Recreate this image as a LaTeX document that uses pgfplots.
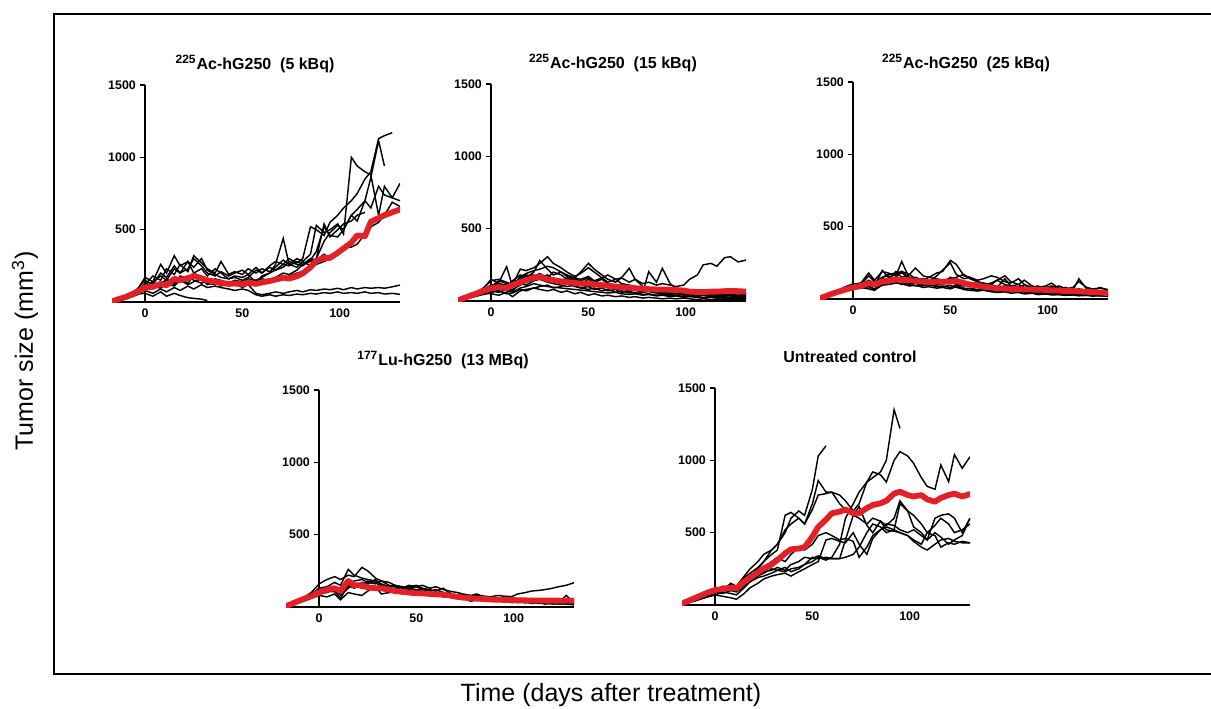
\documentclass[border=0pt]{standalone}
\usepackage{fontspec}
\setmainfont{Liberation Sans}
\usepackage{pgfplots}
\usepackage{pgfplotstable}
\pgfplotsset{compat=1.18}
\definecolor{meanred}{RGB}{228,32,38}

% one row per animal (a, b, ...), m = group mean; columns = days after treatment
\pgfplotstableread[header=has colnames]{
t -17 -10 -4 0 4 8 11 15 18 22 25 29 32 36 39 43 46 50 53 57 60 64 67 71 74 78 81 85 88 92 95 99 102 106 109 113 116 120 123 127 131
a 5 40 90 150 120 200 170 250 200 230 300 250 200 180 210 180 200 220 190 240 200 250 280 260 300 270 300 520 500 460 550 600 650 700 750 850 900 1130 1150 1170 nan
b 5 30 70 120 180 150 230 190 260 210 320 270 230 200 280 190 210 190 230 200 230 210 240 290 260 300 280 330 530 480 500 540 470 1000 940 900 880 600 800 720 700
c 0 25 60 100 130 110 160 130 180 160 200 170 140 160 150 130 150 140 160 150 170 200 220 240 280 260 250 290 350 520 460 450 500 600 640 700 860 1115 940 nan nan
d 5 45 80 110 90 140 120 160 140 180 150 130 150 130 140 120 140 130 150 140 160 150 170 200 190 220 260 280 300 420 480 530 500 600 560 700 650 800 740 720 820
e 0 35 70 90 110 95 130 110 150 120 140 160 120 140 110 130 120 140 130 150 140 160 150 160 180 200 210 230 260 280 300 330 380 380 400 470 520 550 600 690 660
f 5 30 60 100 140 260 200 320 250 280 240 300 220 190 170 160 180 170 190 130 180 200 260 440 260 240 280 250 300 540 450 500 540 560 600 620 nan nan nan nan nan
g 0 30 70 130 110 130 150 120 170 130 180 150 130 120 140 110 130 100 120 60 50 60 70 60 70 80 70 85 80 90 85 95 85 100 90 100 95 100 95 105 117
h 5 20 50 80 60 90 70 100 80 110 90 120 100 110 100 90 80 90 80 50 40 50 40 50 45 55 50 60 55 65 60 70 60 65 60 70 60 65 55 60 53
i 0 25 55 60 40 70 40 60 45 30 25 20 10 nan nan nan nan nan nan nan nan nan nan nan nan nan nan nan nan nan nan nan nan nan nan nan nan nan nan nan nan
j 5 40 85 170 140 180 150 230 200 280 200 230 180 230 200 160 170 150 170 220 200 240 220 260 250 280 260 300 290 330 300 350 nan nan nan nan nan nan nan nan nan
m 5 35 70 100 105 125 115 160 150 165 180 165 150 140 132 125 128 122 135 125 135 145 155 168 162 178 198 240 285 305 305 340 370 410 460 455 555 580 600 620 640
}\rawA

\pgfplotstableread[header=has colnames]{
t -17 -10 -4 0 4 8 11 15 18 22 25 29 32 36 39 43 46 50 53 57 60 64 67 71 74 78 81 85 88 92 95 99 102 106 109 113 116 120 123 127 131
a 5 40 90 140 150 130 110 220 210 230 260 306 260 230 200 170 190 230 200 160 180 150 160 130 150 120 130 110 120 110 100 110 150 180 250 260 240 300 306 270 283
b 5 35 70 90 130 237 100 160 180 170 190 160 200 180 150 160 200 260 220 180 150 130 160 226 150 100 80 70 60 50 55 45 40 50 45 40 35 40 35 30 30
c 5 30 60 70 60 80 70 120 110 140 150 130 120 110 100 110 90 100 80 90 70 80 60 70 50 60 203 130 226 120 90 70 60 50 55 45 40 45 40 35 40
d 5 25 50 60 80 70 60 90 100 120 110 100 95 90 85 80 75 70 65 60 55 60 50 45 50 40 45 35 40 30 35 25 30 25 20 25 20 22 18 20 15
e 5 35 80 110 120 100 140 180 160 200 280 220 180 200 170 150 140 160 130 150 120 110 100 90 80 85 70 65 60 55 60 50 55 45 50 40 45 50 45 40 45
f 5 30 50 50 40 60 30 70 80 90 100 110 90 100 120 100 90 80 90 70 80 60 70 55 60 45 50 40 45 35 40 30 35 30 25 30 25 20 25 22 20
g 5 40 85 150 120 110 130 150 170 180 160 180 150 140 160 140 120 150 130 110 120 100 110 90 100 80 90 70 75 65 60 70 60 65 55 60 55 50 55 50 50
h 5 30 60 80 100 90 80 110 130 150 170 140 130 150 130 120 110 100 110 90 100 80 85 70 75 60 65 55 50 45 50 40 45 35 40 30 35 30 25 30 25
i 5 25 45 60 70 50 55 80 70 90 80 70 80 60 70 50 60 40 50 35 40 30 35 25 30 20 25 20 15 20 15 20 15 10 15 10 12 10 8 10 8
j 5 35 75 100 140 120 100 170 190 210 220 240 230 200 180 160 150 170 140 160 130 150 120 110 100 90 85 80 75 70 75 65 60 70 60 55 60 55 65 55 50
m 5 40 70 88 95 90 110 130 145 160 168 150 145 135 130 125 120 122 115 110 105 100 95 92 88 85 82 80 80 78 76 72 65 62 62 65 65 68 70 68 65
}\rawB

\pgfplotstableread[header=has colnames]{
t -17 -10 -4 0 4 8 11 15 18 22 25 29 32 36 39 43 46 50 53 57 60 64 67 71 74 78 81 85 88 92 95 99 102 106 109 113 116 120 123 127 131
a 5 40 80 100 110 180 130 190 180 160 260 140 150 130 120 110 100 130 120 100 90 80 70 90 60 70 60 55 60 50 55 45 50 40 45 35 40 35 30 35 30
b 5 45 85 105 100 120 110 150 170 180 190 170 214 160 150 180 190 267 240 160 150 120 100 110 130 160 120 100 130 90 80 90 110 70 80 60 70 60 65 50 55
c 5 35 70 90 95 100 90 198 150 170 180 150 130 140 120 160 200 250 170 140 150 130 140 160 150 120 110 140 100 80 90 70 80 90 70 80 120 80 70 75 65
d 5 30 60 75 80 70 60 100 110 120 100 110 90 100 95 90 85 95 80 70 75 65 70 60 55 60 50 55 45 50 40 45 35 40 30 35 30 32 25 30 20
e 5 40 75 95 100 160 120 140 130 190 150 170 140 130 150 140 130 140 150 170 140 120 110 100 130 100 90 80 100 70 80 75 60 65 55 60 50 55 45 50 40
f 5 35 65 80 85 90 70 110 120 130 120 100 110 90 100 85 90 80 95 75 70 60 65 55 60 50 55 45 50 40 45 35 40 30 35 28 30 25 28 22 25
g 5 40 70 100 110 120 100 130 140 150 190 130 120 110 130 120 110 150 130 120 110 100 90 100 80 90 70 80 70 60 65 60 70 50 55 45 50 40 45 40 35
h 5 30 55 70 75 85 65 95 100 110 105 90 95 80 85 75 80 70 85 65 60 55 60 50 45 50 40 45 35 40 30 35 28 30 25 28 22 25 20 22 18
i 5 38 72 90 100 130 110 150 160 140 150 140 130 120 110 100 110 120 100 90 100 80 90 85 80 140 90 100 80 90 70 80 90 75 70 60 140 70 60 80 60
m 5 40 65 80 90 110 100 120 125 135 132 130 125 120 115 120 118 121 125 110 100 95 85 80 75 72 70 68 66 65 64 63 60 58 55 55 52 50 48 45 40
}\rawC

\pgfplotstableread[header=has colnames]{
t -17 -10 -4 0 4 8 11 15 18 22 25 29 32 36 39 43 46 50 53 57 60 64 67 71 74 78 81 85 88 92 95 99 102 106 109 113 116 120 123 127 131
a 5 50 100 160 190 210 190 220 210 274 250 200 180 170 150 140 130 140 120 110 120 100 90 80 85 70 80 75 70 80 75 72 90 100 110 115 120 130 140 150 168
b 5 45 90 130 140 170 150 260 220 200 190 180 160 140 150 130 140 150 130 120 110 130 90 70 60 50 70 60 55 50 45 50 40 45 35 40 30 35 30 80 30
c 5 40 80 110 120 110 60 150 140 170 160 190 150 130 120 140 120 110 130 100 90 100 80 60 70 40 60 50 60 40 50 30 35 30 40 25 30 20 25 20 15
d 5 35 70 90 100 120 80 130 160 140 180 170 140 120 130 110 120 100 110 90 100 80 70 80 60 50 55 45 50 40 45 35 40 30 35 28 30 25 30 25 20
e 5 30 60 80 70 90 50 100 90 80 110 140 90 100 110 90 100 110 90 80 85 70 75 60 65 40 50 45 40 45 35 40 30 35 25 30 20 25 20 22 18
f 5 40 85 120 130 140 120 170 180 190 170 160 180 150 140 130 150 140 150 130 140 120 110 100 90 80 90 70 65 60 55 60 50 55 45 50 40 45 40 35 40
g 5 35 75 100 110 130 100 140 150 130 140 120 130 140 120 110 130 120 110 100 95 90 100 70 60 65 55 60 50 55 45 50 40 45 40 35 40 30 35 30 28
h 5 38 70 95 110 105 90 150 130 160 150 140 120 100 120 100 110 120 100 110 90 80 90 70 80 60 70 55 60 50 55 45 50 40 45 40 35 40 30 35 30
m 5 45 75 100 120 130 110 180 150 150 135 130 130 120 110 105 100 95 95 90 88 85 80 70 65 60 58 55 52 50 50 48 47 46 45 45 44 44 44 43 44
}\rawD

\pgfplotstableread[header=has colnames]{
t -17 -10 -4 0 4 8 11 15 18 22 25 29 32 36 39 43 46 50 53 57 60 64 67 71 74 78 81 85 88 92 95 99 102 106 109 113 116 120 123 127 131
a 5 40 80 120 100 150 130 200 250 300 350 380 420 500 600 650 620 800 1030 1100 nan nan nan nan nan nan nan nan nan nan nan nan nan nan nan nan nan nan nan nan nan
b 5 35 70 90 110 100 120 150 160 190 200 220 240 230 250 260 280 300 330 310 330 420 600 700 780 850 880 920 1000 1350 1221 nan nan nan nan nan nan nan nan nan nan
c 5 40 75 100 130 120 100 180 200 250 300 350 380 620 640 600 560 700 860 780 780 760 720 650 700 850 920 900 850 1000 1060 1030 980 880 820 800 968 853 1040 945 1025
d 5 35 70 90 80 100 90 130 170 200 220 250 240 260 230 250 280 330 320 330 320 320 330 350 400 500 560 540 500 520 700 650 540 500 450 600 620 630 600 500 600
e 5 30 60 70 60 50 40 80 120 150 180 200 210 220 200 230 250 280 300 450 460 440 430 500 420 350 460 520 540 520 500 480 440 400 380 420 450 460 440 430 430
f 5 38 78 110 120 140 110 190 220 260 300 380 420 520 560 600 560 660 760 770 780 700 660 620 600 560 600 580 550 600 720 650 620 560 500 550 600 560 500 520 560
g 5 32 65 85 100 120 130 160 200 220 260 300 330 300 350 400 380 420 480 500 480 450 460 440 330 400 480 520 560 550 520 500 520 480 450 500 470 420 450 480 600
h 5 30 55 70 90 80 70 120 160 210 230 240 260 240 280 300 330 320 340 320 320 320 450 620 680 550 500 580 520 510 500 480 450 420 500 480 400 430 420 440 430
m 10 50 85 104 110 120 115 161 190 225 253 280 310 357 385 390 400 472 540 590 634 645 660 634 634 670 691 703 720 770 783 760 750 760 730 714 740 760 770 750 767
}\rawE

\pgfplotstabletranspose[colnames from=t, input colnames to=t]{\tabA}{\rawA}
\pgfplotstabletranspose[colnames from=t, input colnames to=t]{\tabB}{\rawB}
\pgfplotstabletranspose[colnames from=t, input colnames to=t]{\tabC}{\rawC}
\pgfplotstabletranspose[colnames from=t, input colnames to=t]{\tabD}{\rawD}
\pgfplotstabletranspose[colnames from=t, input colnames to=t]{\tabE}{\rawE}

\pgfplotsset{
  tumor/.style={
    scale only axis, width=144pt, height=108.5pt,
    anchor=south west,
    xmin=-17, xmax=131, ymin=0, ymax=1500,
    axis x line*=bottom, axis y line*=middle,
    xtick={0,50,100}, ytick={500,1000,1500},
    hide obscured x ticks=false, hide obscured y ticks=false,
    xtick style={draw=none},
    ytick align=outside, major tick length=2.4pt,
    tick style={black, line width=0.7pt},
    axis line style={black, line width=0.75pt},
    ticklabel style={font=\fontsize{6.2}{7}\selectfont\bfseries},
    yticklabel style={xshift=1.3pt},
    /pgf/number format/assume math mode=true,
    /pgf/number format/1000 sep={},
    unbounded coords=jump,
  },
  ind/.style={black, line width=0.72pt, no marks},
  avg/.style={meanred, line width=2.9pt, no marks, line join=round, line cap=round},
}

\newcommand{\ttl}{\fontsize{8}{9}\selectfont\bfseries}

\begin{document}
\begin{tikzpicture}
% outer frame
\draw[line width=1.1pt] (27pt,-7pt) rectangle (612pt,-337pt);

\begin{axis}[tumor, at={(56pt,-151pt)}]
\pgfplotsinvokeforeach{a,b,c,d,e,f,g,h,i,j}{\addplot[ind] table[x=t,y=#1]{\tabA};}
\addplot[avg] table[x=t,y=m]{\tabA};
\end{axis}

\begin{axis}[tumor, at={(229pt,-150.5pt)}]
\pgfplotsinvokeforeach{a,b,c,d,e,f,g,h,i,j}{\addplot[ind] table[x=t,y=#1]{\tabB};}
\addplot[avg] table[x=t,y=m]{\tabB};
\end{axis}

\begin{axis}[tumor, at={(410pt,-149.5pt)}]
\pgfplotsinvokeforeach{a,b,c,d,e,f,g,h,i}{\addplot[ind] table[x=t,y=#1]{\tabC};}
\addplot[avg] table[x=t,y=m]{\tabC};
\end{axis}

\begin{axis}[tumor, at={(143pt,-303.5pt)}]
\pgfplotsinvokeforeach{a,b,c,d,e,f,g,h}{\addplot[ind] table[x=t,y=#1]{\tabD};}
\addplot[avg] table[x=t,y=m]{\tabD};
\end{axis}

\begin{axis}[tumor, at={(341pt,-302.5pt)}]
\pgfplotsinvokeforeach{a,b,c,d,e,f,g,h}{\addplot[ind] table[x=t,y=#1]{\tabE};}
\addplot[avg] table[x=t,y=m]{\tabE};
\end{axis}

% panel titles
\node[font=\ttl] at (127.5pt,-32pt) {\textsuperscript{225}Ac-hG250~~(5 kBq)};
\node[font=\ttl] at (306.5pt,-31.5pt) {\textsuperscript{225}Ac-hG250~~(15 kBq)};
\node[font=\ttl] at (483pt,-31.5pt) {\textsuperscript{225}Ac-hG250~~(25 kBq)};
\node[font=\ttl] at (221.5pt,-180pt) {\textsuperscript{177}Lu-hG250~~(13 MBq)};
\node[font=\ttl] at (425pt,-178.5pt) {Untreated control};

% shared axis labels
\node[rotate=90, font=\fontsize{12.5}{14}\selectfont] at (12.5pt,-175.5pt) {Tumor size (mm\textsuperscript{3})};
\node[font=\fontsize{12.5}{14}\selectfont] at (305.5pt,-347.5pt) {Time (days after treatment)};

\pgfresetboundingbox
\useasboundingbox (0pt,0pt) rectangle (605.5pt,-354pt);
\end{tikzpicture}
\end{document}
